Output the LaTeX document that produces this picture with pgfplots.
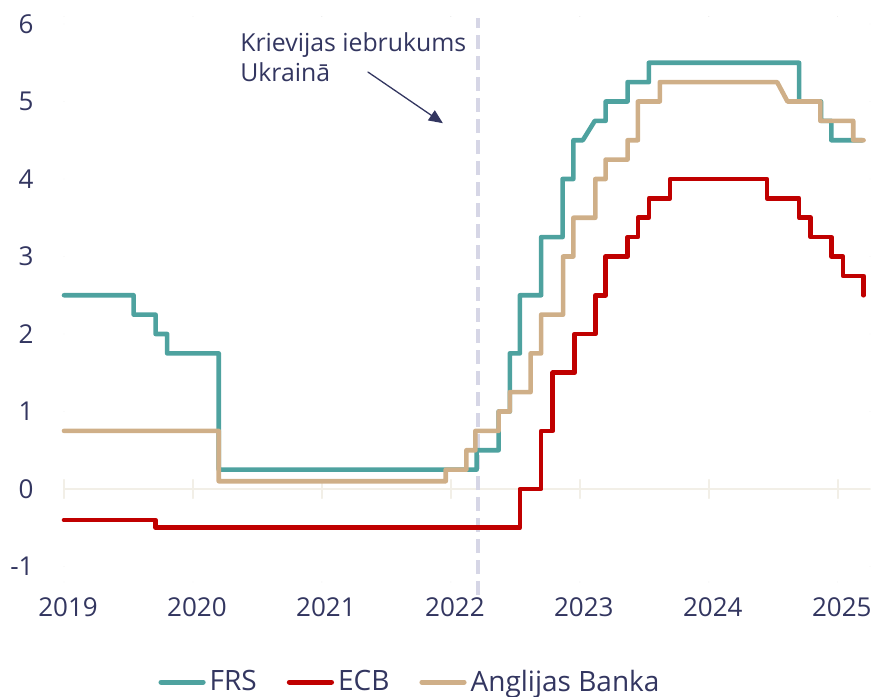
\documentclass[border=0pt]{standalone}
\usepackage{fontspec}
\setmainfont{Open Sans}
\usepackage{pgfplots}
\pgfplotsset{compat=1.18}
\usetikzlibrary{arrows.meta}

\definecolor{frs}{RGB}{78,162,159}
\definecolor{ecb}{RGB}{192,0,0}
\definecolor{boe}{RGB}{207,175,136}
\definecolor{navy}{RGB}{51,54,96}
\definecolor{dashc}{RGB}{214,214,230}
\definecolor{zeroline}{RGB}{242,239,231}

\begin{document}
\begin{tikzpicture}
\path[use as bounding box] (-32pt,-57pt) rectangle (406.5pt,291pt);
\begin{axis}[
  scale only axis,
  width=403pt, height=282.875pt,
  xmin=2019, xmax=2025.25,
  ymin=-1.2, ymax=6.1,
  clip=false,
  axis line style={draw=none},
  major tick length=0pt,
  xtick={2019,2020,2021,2022,2023,2024,2025},
  xticklabels={2019,2020,2021,2022,2023,2024,2025},
  ytick={-1,0,1,2,3,4,5,6},
  yticklabels={-1,0,1,2,3,4,5,6},
  tick label style={font=\fontsize{13}{15}\selectfont, text=navy},
  yticklabel style={anchor=east, inner sep=0pt, xshift=-15pt},
  xticklabel style={anchor=north, inner sep=0pt, yshift=-7.5pt, xshift=2pt},
  line cap=round, line join=round,
  legend columns=3,
  legend cell align=left,
  legend style={draw=none, fill=none, font=\fontsize{14}{16}\selectfont, text=navy,
    at={(0.4305,-0.177)}, anchor=center,
    /tikz/every even column/.append style={column sep=13pt}},
  legend image code/.code={\draw[#1, line width=2.6pt, line cap=round] (0pt,0pt) -- (21pt,0pt);},
]
% y = 0 line with year ticks
\draw[zeroline, line width=0.9pt] (axis cs:2019,0) -- (axis cs:2025.25,0);
\pgfplotsinvokeforeach{2019,2020,2021,2022,2023,2024,2025}{
  \draw[zeroline, line width=0.8pt] (axis cs:#1,-0.12) -- (axis cs:#1,0.12);
}
% invasion marker
\draw[dashc, line width=2.3pt, dash pattern=on 7pt off 3.5pt, line cap=butt]
  (axis cs:2022.21,-1.37) -- (axis cs:2022.21,6.08);

\addplot[frs, line width=2.3pt] coordinates {
 (2019,2.5) (2019.54,2.5) (2019.54,2.25) (2019.71,2.25) (2019.71,2.0) (2019.80,2.0)
 (2019.80,1.75) (2020.20,1.75) (2020.20,0.25) (2022.2,0.25) (2022.2,0.5) (2022.37,0.5)
 (2022.37,1.0) (2022.457,1.0) (2022.457,1.75) (2022.535,1.75) (2022.535,2.5) (2022.70,2.5)
 (2022.70,3.25) (2022.866,3.25) (2022.866,4.0) (2022.95,4.0) (2022.95,4.5) (2023.023,4.5)
 (2023.116,4.75) (2023.2,4.75) (2023.2,5.0) (2023.37,5.0) (2023.37,5.25) (2023.535,5.25)
 (2023.535,5.5) (2024.70,5.5) (2024.70,5.0) (2024.87,5.0) (2024.87,4.75) (2024.95,4.75)
 (2024.95,4.5) (2025.19,4.5)
};
\addlegendentry{FRS}

\addplot[ecb, line width=2.3pt] coordinates {
 (2019,-0.4) (2019.71,-0.4) (2019.71,-0.5) (2022.535,-0.5) (2022.535,0) (2022.70,0)
 (2022.70,0.75) (2022.79,0.75) (2022.79,1.5) (2022.96,1.5) (2022.96,2.0) (2023.12,2.0)
 (2023.12,2.5) (2023.2,2.5) (2023.2,3.0) (2023.37,3.0) (2023.37,3.25) (2023.45,3.25)
 (2023.45,3.5) (2023.535,3.5) (2023.535,3.75) (2023.70,3.75) (2023.70,4.0) (2024.45,4.0)
 (2024.45,3.75) (2024.70,3.75) (2024.70,3.5) (2024.79,3.5) (2024.79,3.25) (2024.95,3.25)
 (2024.95,3.0) (2025.04,3.0) (2025.04,2.75) (2025.2,2.75) (2025.2,2.5)
};
\addlegendentry{ECB}

\addplot[boe, line width=2.3pt] coordinates {
 (2019,0.75) (2020.2,0.75) (2020.2,0.1) (2021.96,0.1) (2021.96,0.25) (2022.12,0.25)
 (2022.12,0.5) (2022.19,0.5) (2022.19,0.75) (2022.37,0.75) (2022.37,1.0) (2022.457,1.0)
 (2022.457,1.25) (2022.618,1.25) (2022.618,1.75) (2022.70,1.75) (2022.70,2.25) (2022.87,2.25)
 (2022.87,3.0) (2022.95,3.0) (2022.95,3.5) (2023.12,3.5) (2023.12,4.0) (2023.2,4.0)
 (2023.2,4.25) (2023.37,4.25) (2023.37,4.5) (2023.45,4.5) (2023.45,5.0) (2023.62,5.0)
 (2023.62,5.25) (2024.53,5.25) (2024.61,5.0) (2024.865,5.0) (2024.865,4.75) (2025.12,4.75)
 (2025.12,4.5) (2025.2,4.5)
};
\addlegendentry{Anglijas Banka}

% annotation
\node[anchor=base west, inner sep=0pt, text=navy, font=\fontsize{12.4}{15}\selectfont]
  at (axis cs:2020.364,5.643) {Krievijas iebrukums};
\node[anchor=base west, inner sep=0pt, text=navy, font=\fontsize{12.4}{15}\selectfont]
  at (axis cs:2020.364,5.256) {Ukrainā};
\draw[navy, line width=0.65pt, -{Triangle[length=7pt,width=6pt]}]
  (axis cs:2021.357,5.38) -- (axis cs:2021.938,4.72);
\end{axis}
\end{tikzpicture}
\end{document}
